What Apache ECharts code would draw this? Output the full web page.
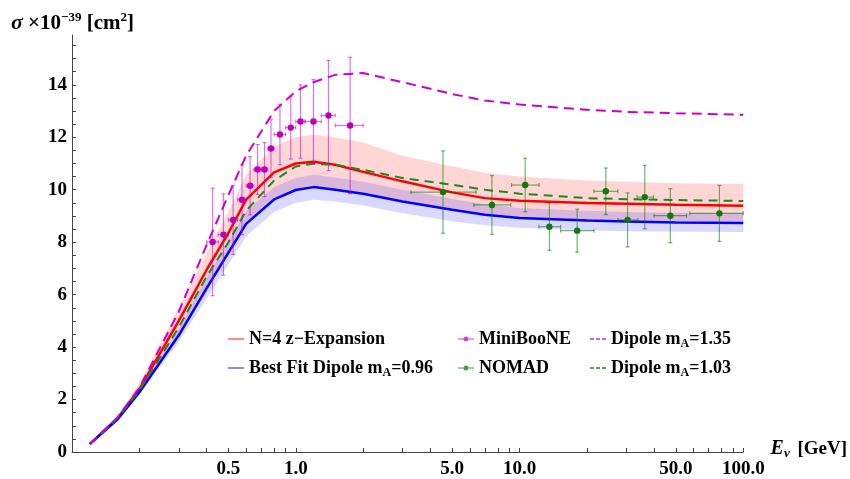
<!DOCTYPE html>
<html><head><meta charset="utf-8">
<script src="https://cdn.jsdelivr.net/npm/echarts@6.0.0/dist/echarts.min.js"></script>
<style>html,body{margin:0;padding:0;background:#fff}#c{width:850px;height:479px}</style>
</head><body><div id="c"></div>
<script>
// ---- theory curves (E in GeV, sigma in 1e-39 cm^2) ----
const energyGrid   = [0.12, 0.16, 0.2, 0.3, 0.4, 0.5, 0.6, 0.8, 1.0, 1.2, 1.5, 2, 3, 5, 7, 10, 20, 30, 50, 100];
const zExpansion   = [0.30, 1.30, 2.40, 5.00, 6.95, 8.35, 9.62, 10.66, 11.00, 11.07, 10.95, 10.68, 10.32, 9.90, 9.68, 9.58, 9.49, 9.47, 9.43, 9.39];
const zExpansionHi = [0.32, 1.38, 2.60, 5.50, 7.60, 9.15, 10.55, 11.65, 12.00, 12.10, 12.00, 11.80, 11.30, 10.90, 10.65, 10.50, 10.35, 10.30, 10.25, 10.22];
const zExpansionLo = [0.28, 1.22, 2.20, 4.50, 6.30, 7.55, 8.70, 9.70, 10.00, 10.10, 10.00, 9.85, 9.60, 9.25, 9.05, 8.95, 8.85, 8.80, 8.75, 8.73];
const dipole096    = [0.30, 1.25, 2.28, 4.45, 6.25, 7.60, 8.70, 9.63, 9.99, 10.10, 10.00, 9.85, 9.55, 9.24, 9.05, 8.92, 8.83, 8.79, 8.75, 8.73];
const dipole096Hi  = [0.31, 1.30, 2.38, 4.70, 6.65, 8.05, 9.18, 10.10, 10.45, 10.57, 10.47, 10.30, 10.00, 9.65, 9.45, 9.30, 9.20, 9.15, 9.12, 9.11];
const dipole096Lo  = [0.29, 1.20, 2.18, 4.20, 5.85, 7.15, 8.23, 9.15, 9.50, 9.62, 9.55, 9.40, 9.10, 8.80, 8.65, 8.55, 8.45, 8.42, 8.40, 8.39];
const dipole135    = [0.30, 1.32, 2.45, 5.35, 7.90, 9.80, 11.30, 13.00, 13.75, 14.10, 14.38, 14.45, 14.10, 13.65, 13.40, 13.25, 13.05, 12.97, 12.92, 12.86];
const dipole103    = [0.30, 1.30, 2.35, 4.75, 6.70, 8.00, 9.20, 10.35, 10.89, 10.99, 10.95, 10.76, 10.45, 10.19, 10.00, 9.85, 9.68, 9.64, 9.61, 9.57];

// ---- MiniBooNE data ----
const mbE     = [0.425, 0.475, 0.525, 0.575, 0.625, 0.675, 0.725, 0.775, 0.85, 0.95, 1.05, 1.2, 1.4, 1.75];
const mbELo   = [0.40, 0.45, 0.50, 0.55, 0.60, 0.65, 0.70, 0.75, 0.80, 0.90, 1.00, 1.10, 1.30, 1.50];
const mbEHi   = [0.45, 0.50, 0.55, 0.60, 0.65, 0.70, 0.75, 0.80, 0.90, 1.00, 1.10, 1.30, 1.50, 2.00];
const mbSigma = [8.01, 8.29, 8.85, 9.62, 10.15, 10.77, 10.77, 11.57, 12.11, 12.37, 12.60, 12.60, 12.83, 12.45];
const mbErr   = [2.05, 1.55, 1.32, 1.33, 1.11, 0.95, 1.03, 1.10, 1.15, 1.20, 1.40, 1.60, 2.10, 2.60];

// ---- NOMAD data ----
const nmE     = [4.55, 7.53, 10.6, 13.6, 18.1, 24.3, 30.4, 36.3, 47.2, 78.2];
const nmELo   = [3.27, 6.25, 9.21, 12.2, 15.26, 21.5, 27.5, 33.5, 39.9, 57.7];
const nmEHi   = [6.39, 9.15, 12.23, 15.26, 21.5, 27.5, 33.8, 39.7, 55.8, 100];
const nmSigma = [9.91, 9.42, 10.18, 8.59, 8.44, 9.94, 8.85, 9.72, 9.01, 9.10];
const nmErr   = [1.57, 1.12, 1.02, 0.90, 0.82, 0.89, 1.03, 1.21, 1.03, 1.07];

// ---- ticks ----
const xTickValues = [0.5, 1, 5, 10, 50, 100];
const xTickLabels = ['0.5', '1.0', '5.0', '10.0', '50.0', '100.0'];
const xMinorTicks = [0.2, 0.3, 0.4, 0.6, 0.7, 0.8, 0.9, 2, 3, 4, 6, 7, 8, 9, 20, 30, 40, 60, 70, 80, 90];
const yTickValues = [0, 2, 4, 6, 8, 10, 12, 14];
const yTickLabels = ['0', '2', '4', '6', '8', '10', '12', '14'];
const yMinorTicks = [0.5,1,1.5,2.5,3,3.5,4.5,5,5.5,6.5,7,7.5,8.5,9,9.5,10.5,11,11.5,12.5,13,13.5,14.5,15,15.5];

const SERIF = "'Liberation Serif', 'DejaVu Serif', serif";
const pairs = (ys) => energyGrid.map((e, i) => [e, ys[i]]);

function lookup(vals, labels, v) {
  const i = vals.findIndex(t => Math.abs(t - v) <= Math.abs(t) * 1e-6 + 1e-9);
  return i >= 0 ? labels[i] : '';
}

function bandRender(lo, hi, color) {
  return function (params, api) {
    if (params.dataIndex !== 0) return null;
    const pts = [];
    for (let i = 0; i < energyGrid.length; i++) pts.push(api.coord([energyGrid[i], hi[i]]));
    for (let i = energyGrid.length - 1; i >= 0; i--) pts.push(api.coord([energyGrid[i], lo[i]]));
    return { type: 'polygon', shape: { points: pts }, style: { fill: color } };
  };
}

function makeErrRender(dotColor, barColor) {
  return function (params, api) {
    const x = api.value(0), y = api.value(1), lo = api.value(2), hi = api.value(3), e = api.value(4);
    const p = api.coord([x, y]);
    const t = api.coord([x, y + e]);
    const b = api.coord([x, y - e]);
    const l = api.coord([lo, y]);
    const r = api.coord([hi, y]);
    const cap = 2;
    const ls = { stroke: barColor, lineWidth: 1.2 };
    return {
      type: 'group',
      children: [
        { type: 'line', shape: { x1: p[0], y1: t[1], x2: p[0], y2: b[1] }, style: ls },
        { type: 'line', shape: { x1: l[0], y1: p[1], x2: r[0], y2: p[1] }, style: ls },
        { type: 'line', shape: { x1: p[0] - cap, y1: t[1], x2: p[0] + cap, y2: t[1] }, style: ls },
        { type: 'line', shape: { x1: p[0] - cap, y1: b[1], x2: p[0] + cap, y2: b[1] }, style: ls },
        { type: 'line', shape: { x1: l[0], y1: p[1] - cap, x2: l[0], y2: p[1] + cap }, style: ls },
        { type: 'line', shape: { x1: r[0], y1: p[1] - cap, x2: r[0], y2: p[1] + cap }, style: ls },
        { type: 'circle', shape: { cx: p[0], cy: p[1], r: 3.2 }, style: { fill: dotColor } }
      ]
    };
  };
}

const legendText = {
  fontFamily: SERIF, fontWeight: 'bold', fontSize: 18, color: '#000', lineHeight: 22,
  rich: {
    sub: { fontFamily: SERIF, fontWeight: 'bold', fontSize: 12, lineHeight: 12, verticalAlign: 'top', padding: [10, 0, 0, 0], color: '#000' }
  }
};
const legendFmt = (name) => name.replace('mA', 'm{sub|A}');
const dotIcon = 'path://M0,2 L16,2 L16,3 L0,3 Z M8,0 A2.5,2.5 0 1 1 7.99,0 Z';
const solidIcon = 'path://M0,0 L16,0 L16,1.6 L0,1.6 Z';
const dashIcon = 'path://M0,0 L4,0 L4,1.6 L0,1.6 Z M6,0 L10,0 L10,1.6 L6,1.6 Z M12,0 L16,0 L16,1.6 L12,1.6 Z';

const chart = echarts.init(document.getElementById('c'), null, { renderer: 'canvas' });
chart.setOption({
  animation: false,
  backgroundColor: '#fff',
  title: {
    left: 6, top: 6,
    text: '{s|σ} ×10{sup|−39} [cm{sup|2}]',
    textStyle: {
      fontFamily: SERIF, fontWeight: 'bold', fontSize: 21, color: '#000', lineHeight: 25,
      rich: {
        s: { fontFamily: SERIF, fontWeight: 'bold', fontStyle: 'italic', fontSize: 22, lineHeight: 25, color: '#000' },
        sup: { fontFamily: SERIF, fontWeight: 'bold', fontSize: 13, lineHeight: 13, verticalAlign: 'top', color: '#000' }
      }
    }
  },
  grid: { left: 72, right: 103, top: 35, bottom: 26, containLabel: false },
  xAxis: {
    type: 'log', logBase: 10, min: 0.1, max: 100,
    name: '{e|E}{nu|ν} [GeV]', nameLocation: 'end', nameGap: 21,
    nameTextStyle: {
      fontFamily: SERIF, fontWeight: 'bold', fontSize: 19, color: '#000', align: 'left', verticalAlign: 'middle', lineHeight: 22, padding: [0, 0, 6, 0],
      rich: {
        e: { fontFamily: SERIF, fontWeight: 'bold', fontStyle: 'italic', fontSize: 20, lineHeight: 22, color: '#000' },
        nu: { fontFamily: SERIF, fontWeight: 'bold', fontStyle: 'italic', fontSize: 13, lineHeight: 12, verticalAlign: 'top', padding: [9, 3, 0, 0], color: '#000' }
      }
    },
    axisLine: { onZero: false, lineStyle: { color: '#444', width: 1 } },
    axisTick: { inside: true, length: 4, customValues: xTickValues.concat(xMinorTicks), lineStyle: { color: '#444' } },
    minorTick: { show: false },
    axisLabel: {
      customValues: xTickValues, margin: 8,
      formatter: (v) => lookup(xTickValues, xTickLabels, v),
      fontFamily: SERIF, fontWeight: 'bold', fontSize: 19, color: '#000'
    },
    splitLine: { show: false }
  },
  yAxis: {
    type: 'value', min: 0, max: 15.9,
    axisLine: { show: true, onZero: false, lineStyle: { color: '#444', width: 1 } },
    axisTick: { show: true, inside: true, length: 4, customValues: yTickValues.concat(yMinorTicks), lineStyle: { color: '#444' } },
    minorTick: { show: false },
    axisLabel: {
      customValues: yTickValues, margin: 5,
      formatter: (v) => lookup(yTickValues, yTickLabels, v),
      fontFamily: SERIF, fontWeight: 'bold', fontSize: 19, color: '#000'
    },
    splitLine: { show: false }
  },
  legend: [
    {
      left: 223, top: 323, orient: 'vertical', itemGap: 7, itemWidth: 16, itemHeight: 10, selectedMode: false,
      textStyle: legendText, formatter: legendFmt,
      data: [
        { name: 'N=4 z−Expansion', icon: solidIcon, itemStyle: { color: 'rgba(255,70,70,0.8)' } },
        { name: 'Best Fit Dipole mA=0.96', icon: solidIcon, itemStyle: { color: 'rgba(70,70,255,0.8)' } }
      ]
    },
    {
      left: 453, top: 323, orient: 'vertical', itemGap: 7, itemWidth: 16, itemHeight: 10, selectedMode: false,
      textStyle: legendText, formatter: legendFmt,
      data: [
        { name: 'MiniBooNE', icon: dotIcon, itemStyle: { color: 'rgba(200,0,200,0.75)' } },
        { name: 'NOMAD', icon: dotIcon, itemStyle: { color: 'rgba(0,130,0,0.75)' } }
      ]
    },
    {
      left: 585, top: 323, orient: 'vertical', itemGap: 7, itemWidth: 16, itemHeight: 10, selectedMode: false,
      textStyle: legendText, formatter: legendFmt,
      data: [
        { name: 'Dipole mA=1.35', icon: dashIcon, itemStyle: { color: '#dd22dd' } },
        { name: 'Dipole mA=1.03', icon: dashIcon, itemStyle: { color: '#1a8a1a' } }
      ]
    }
  ],
  series: [
    { name: 'zBand', type: 'custom', silent: true, renderItem: bandRender(zExpansionLo, zExpansionHi, 'rgba(255,0,0,0.16)'),
      encode: { x: 0, y: [1, 2] }, data: energyGrid.map((e, i) => [e, zExpansionLo[i], zExpansionHi[i]]), z: 1 },
    { name: 'dBand', type: 'custom', silent: true, renderItem: bandRender(dipole096Lo, dipole096Hi, 'rgba(0,0,255,0.15)'),
      encode: { x: 0, y: [1, 2] }, data: energyGrid.map((e, i) => [e, dipole096Lo[i], dipole096Hi[i]]), z: 1 },
    { name: 'N=4 z−Expansion', type: 'line', data: pairs(zExpansion), symbol: 'none', color: '#ff0000',
      lineStyle: { color: '#ff0000', width: 2.5 }, z: 3 },
    { name: 'Best Fit Dipole mA=0.96', type: 'line', data: pairs(dipole096), symbol: 'none', color: '#0000ff',
      lineStyle: { color: '#0000ff', width: 2.5 }, z: 3 },
    { name: 'Dipole mA=1.03', type: 'line', data: pairs(dipole103), symbol: 'none', color: '#1a8a1a',
      lineStyle: { color: '#1a8a1a', width: 2, type: [9, 6] }, z: 4 },
    { name: 'Dipole mA=1.35', type: 'line', data: pairs(dipole135), symbol: 'none', color: '#cc00cc',
      lineStyle: { color: '#cc00cc', width: 2, type: [10, 6] }, z: 4 },
    { name: 'MiniBooNE', type: 'custom', color: '#bb00bb', itemStyle: { color: '#bb00bb' },
      renderItem: makeErrRender('#bb00bb', 'rgba(200,0,200,0.55)'),
      encode: { x: 0, y: 1 },
      data: mbE.map((e, i) => [e, mbSigma[i], mbELo[i], mbEHi[i], mbErr[i]]), z: 5 },
    { name: 'NOMAD', type: 'custom', color: '#117711', itemStyle: { color: '#117711' },
      renderItem: makeErrRender('#117711', 'rgba(0,120,0,0.55)'),
      encode: { x: 0, y: 1 },
      data: nmE.map((e, i) => [e, nmSigma[i], nmELo[i], nmEHi[i], nmErr[i]]), z: 5 }
  ]
});
</script>
</body></html>
